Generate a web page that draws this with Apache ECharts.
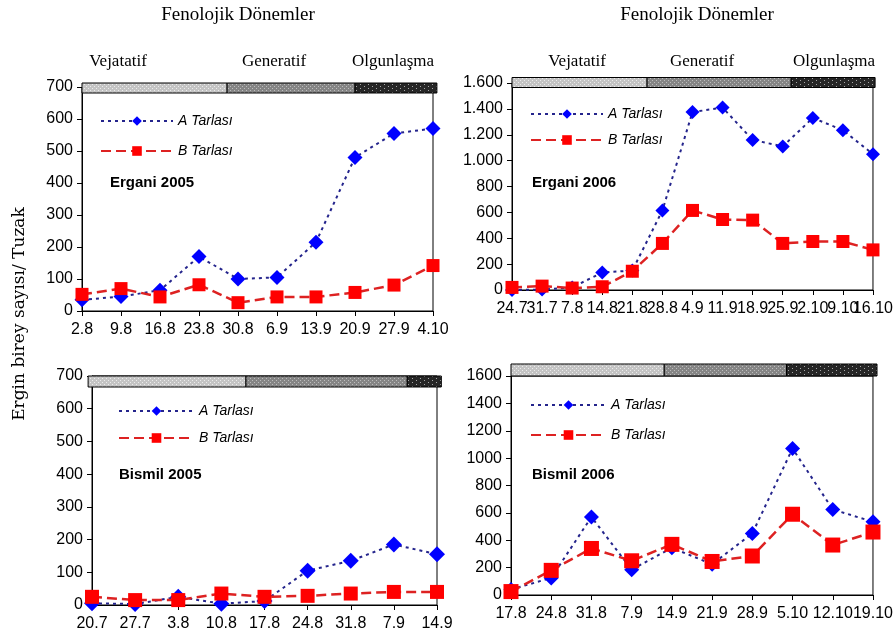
<!DOCTYPE html>
<html><head><meta charset="utf-8">
<script src="https://cdn.jsdelivr.net/npm/echarts@6/dist/echarts.min.js"></script>
<style>html,body{margin:0;padding:0;background:#fff}#c{width:896px;height:641px}</style>
</head><body><div id="c"></div>
<script>
// ---------- data ----------
var catsErg05 = ['2.8','9.8','16.8','23.8','30.8','6.9','13.9','20.9','27.9','4.10'];
var aErg05 = [35,45,65,170,100,105,215,480,555,570];
var bErg05 = [52,70,44,82,26,44,44,58,81,142];

var catsErg06 = ['24.7','31.7','7.8','14.8','21.8','28.8','4.9','11.9','18.9','25.9','2.10','9.10','16.10'];
var aErg06 = [0,3,20,135,150,615,1375,1410,1160,1110,1330,1235,1050];
var bErg06 = [20,30,15,25,145,360,615,545,540,360,375,375,310];

var catsBis05 = ['20.7','27.7','3.8','10.8','17.8','24.8','31.8','7.9','14.9'];
var aBis05 = [5,3,25,4,12,105,135,185,155];
var bBis05 = [25,15,15,35,25,28,35,40,40];

var catsBis06 = ['17.8','24.8','31.8','7.9','14.9','21.9','28.9','5.10','12.10','19.10'];
var aBis06 = [40,125,570,185,345,225,450,1070,625,535];
var bBis06 = [25,180,340,250,370,245,285,590,365,460];

// phenological period boundaries (in category-index units)
var phErg05 = [0, 3.72, 7.0, 9.1];
var phErg06 = [0, 4.49, 9.28, 12.07];
var phBis05 = [-0.09, 3.57, 7.31, 8.1];
var phBis06 = [0, 3.81, 6.85, 9.1];

var phaseNames = ['Vejatatif','Generatif','Olgunlaşma'];
var seriesNames = ['A Tarlası','B Tarlası'];
var headerText = 'Fenolojik Dönemler';
var yTitle = 'Ergin birey sayısı/ Tuzak';
var panelTitles = ['Ergani 2005','Ergani 2006','Bismil 2005','Bismil 2006'];

// ---------- styling ----------
function makePattern(bg, dot, w, h, dots) {
  var c = document.createElement('canvas'); c.width = w; c.height = h;
  var g = c.getContext('2d'); g.fillStyle = bg; g.fillRect(0,0,w,h);
  g.fillStyle = dot; dots.forEach(function(d){ g.fillRect(d[0], d[1], 1, 1); });
  return {image: c, repeat: 'repeat'};
}
var patterns = [
  makePattern('#c4c4c4', '#ececec', 4, 4, [[0,0],[2,2]]),
  makePattern('#858585', '#bdbdbd', 4, 4, [[0,0],[2,2]]),
  makePattern('#262626', '#a8a8a8', 8, 4, [[0,0],[4,2]])
];

var tickFont = "'Liberation Sans Narrow','Liberation Sans',Arial,sans-serif";

var panels = [
  {cats: catsErg05, a: aErg05, b: bErg05, ph: phErg05, max: 700, step: 100,
   grid: {left: 82, top: 87, width: 351, height: 224}, barOff: [-4, 6],
   legend: {left: 100, top: 114, itemWidth: 72, itemGap: 16}, sym: [15, 13], sep: false,
   title: [110, 183]},
  {cats: catsErg06, a: aErg06, b: bErg06, ph: phErg06, max: 1600, step: 200,
   grid: {left: 512, top: 83, width: 366, height: 207}, barOff: [-5.5, 4.5],
   legend: {left: 530, top: 107, itemWidth: 72, itemGap: 12}, sym: [14, 13], sep: true,
   title: [532, 183]},
  {cats: catsBis05, a: aBis05, b: bBis05, ph: phBis05, max: 700, step: 100,
   grid: {left: 92, top: 376, width: 345, height: 229}, barOff: [0, 11],
   legend: {left: 118, top: 404, itemWidth: 75, itemGap: 13}, sym: [16, 14], sep: false,
   title: [119, 475]},
  {cats: catsBis06, a: aBis06, b: bBis06, ph: phBis06, max: 1600, step: 200,
   grid: {left: 511, top: 376, width: 364, height: 219}, barOff: [-12, 0],
   legend: {left: 530, top: 398, itemWidth: 75, itemGap: 16}, sym: [15, 15], sep: false,
   title: [532, 475]}
];

var grids = [], xAxes = [], yAxes = [], series = [], legends = [], graphics = [];

panels.forEach(function(p, i) {
  grids.push({left: p.grid.left, top: p.grid.top, width: p.grid.width, height: p.grid.height,
    show: true, borderColor: '#000', borderWidth: 1, backgroundColor: 'transparent'});
  xAxes.push({type: 'category', gridIndex: i, data: p.cats, boundaryGap: false,
    axisLine: {show: true, lineStyle: {color: '#000', width: 1}},
    axisTick: {show: true, length: 5, lineStyle: {color: '#000'}},
    axisLabel: {interval: 0, color: '#000', fontFamily: tickFont, fontSize: 16, margin: 11},
    splitLine: {show: false}});
  xAxes.push({type: 'value', gridIndex: i, min: 0, max: p.cats.length - 1, show: false,
    splitLine: {show: false}});
  yAxes.push({type: 'value', gridIndex: i, min: 0, max: p.max, interval: p.step,
    axisLine: {show: true, lineStyle: {color: '#000', width: 1}},
    axisTick: {show: true, length: 5, lineStyle: {color: '#000'}},
    axisLabel: {color: '#000', fontFamily: tickFont, fontSize: 16, margin: 9,
      formatter: (function(sep){ return function(v){
        if (sep && v >= 1000) { var r = String(v % 1000); while (r.length < 3) r = '0' + r; return Math.floor(v/1000) + '.' + r; }
        return String(v); }; })(p.sep)},
    splitLine: {show: false}});

  var phaseData = [];
  for (var k = 0; k < 3; k++) phaseData.push([p.ph[k], p.ph[k+1], k, p.max]);
  series.push({type: 'custom', xAxisIndex: 2*i + 1, yAxisIndex: i, clip: false, silent: true, z: 5,
    encode: {x: [0, 1], y: 3}, data: phaseData,
    renderItem: (function(off){ return function(params, api) {
      var p0 = api.coord([api.value(0), api.value(3)]);
      var p1 = api.coord([api.value(1), api.value(3)]);
      return {type: 'rect', shape: {x: p0[0], y: p0[1] + off[0], width: p1[0] - p0[0], height: off[1] - off[0]},
        style: {fill: patterns[api.value(2)], stroke: '#000', lineWidth: 1}};
    }; })(p.barOff)});

  series.push({type: 'line', name: seriesNames[0], xAxisIndex: 2*i, yAxisIndex: i, data: p.a,
    symbol: 'diamond', symbolSize: p.sym[0], z: 3,
    itemStyle: {color: '#0000ff'},
    lineStyle: {color: '#24248c', width: 2, type: [3, 4]}});
  series.push({type: 'line', name: seriesNames[1], xAxisIndex: 2*i, yAxisIndex: i, data: p.b,
    symbol: 'rect', symbolSize: p.sym[1], z: 4,
    itemStyle: {color: '#ff0000'},
    lineStyle: {color: '#dd2222', width: 2.5, type: [10, 5]}});

  legends.push({left: p.legend.left, top: p.legend.top, orient: 'vertical', padding: 0,
    itemWidth: p.legend.itemWidth, itemHeight: 12, itemGap: p.legend.itemGap, data: seriesNames, selectedMode: false,
    textStyle: {fontStyle: 'italic', fontSize: 14, fontFamily: "'Liberation Sans',Arial,sans-serif", color: '#000'}});

  graphics.push({type: 'text', x: p.title[0], y: p.title[1], z: 10,
    style: {text: panelTitles[i], fill: '#000', font: "bold 15px 'Liberation Sans',Arial,sans-serif",
      textAlign: 'left', textVerticalAlign: 'middle'}});
});

// headers & phase labels
var serif = "'Liberation Serif','Times New Roman',serif";
[[238, 15], [697, 15]].forEach(function(pt){
  graphics.push({type: 'text', x: pt[0], y: pt[1], style: {text: headerText, fill: '#000',
    font: '19px ' + serif, textAlign: 'center', textVerticalAlign: 'middle'}});
});
[[118, 274, 393], [577, 702, 834]].forEach(function(xs){
  xs.forEach(function(x, k){
    graphics.push({type: 'text', x: x, y: 62, style: {text: phaseNames[k], fill: '#000',
      font: '17px ' + serif, textAlign: 'center', textVerticalAlign: 'middle'}});
  });
});
graphics.push({type: 'text', x: 20, y: 314, rotation: Math.PI / 2,
  style: {text: yTitle, fill: '#000', font: "17px 'DejaVu Serif',serif", textAlign: 'center', textVerticalAlign: 'middle'}});

var chart = echarts.init(document.getElementById('c'), null, {renderer: 'canvas'});
chart.setOption({
  animation: false,
  backgroundColor: '#fff',
  grid: grids, xAxis: xAxes, yAxis: yAxes, series: series, legend: legends, graphic: graphics
});
</script></body></html>
